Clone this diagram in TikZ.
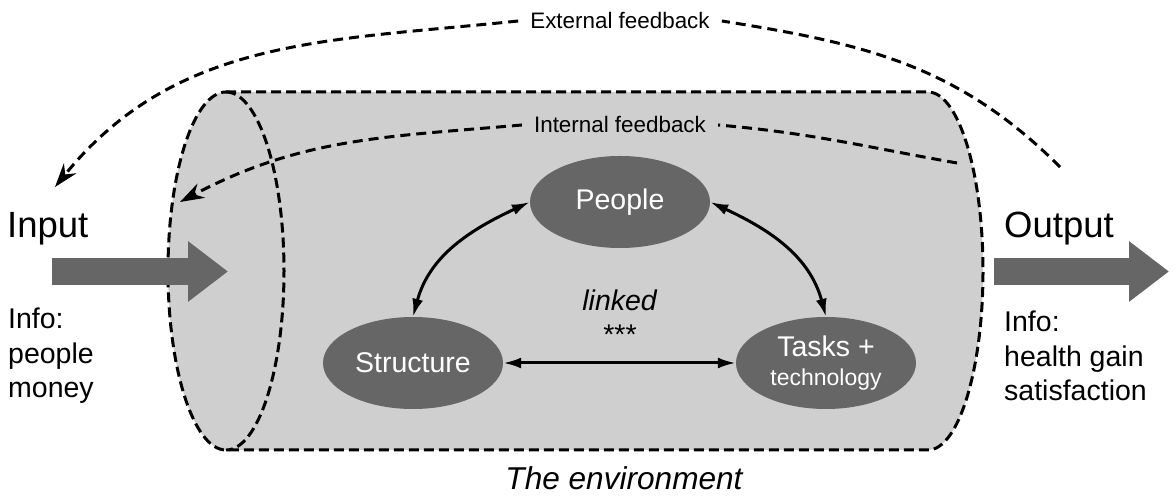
\documentclass[tikz,border=0pt]{standalone}
\usepackage{fontspec}
\setmainfont{Liberation Sans}
\usetikzlibrary{arrows.meta,shapes.geometric}

\definecolor{lightfill}{gray}{0.81}
\definecolor{darkfill}{gray}{0.4}
\newcommand{\fsize}[2]{\fontsize{#1}{#2}\selectfont}

\begin{document}
\begin{tikzpicture}
[
  x=1pt, y=1pt,
  blob/.style={ellipse, fill=darkfill, text=white, inner sep=0pt,
    minimum width=180pt, minimum height=92pt, font=\fsize{28.5}{29}},
  link/.style={line width=3pt,
    {Latex[length=18pt,width=11pt]}-{Latex[length=18pt,width=11pt]}},
  feedback/.style={line width=3pt, dash pattern=on 10pt off 6pt},
  fbtip/.style={-{Stealth[length=24pt,width=16pt]}},
  rim/.style={line width=3pt, dash pattern=on 10pt off 5pt},
  flow/.style={line width=27pt, darkfill, -{Triangle[length=40pt,width=58pt]}},
  fbtext/.style={font=\fsize{22.4}{26}, inner xsep=12pt},
  side/.style={inner sep=0pt, anchor=base west, font=\fsize{36.5}{40}},
  info/.style={inner sep=0pt, anchor=north west, align=left, font=\fsize{28.5}{34.5}}
]
  \useasboundingbox (0,0) rectangle (1175,497);

  % the environment
  \filldraw[rim, fill=lightfill] (226,405) -- (928,405)
    arc[start angle=90, end angle=-90, x radius=55, y radius=179]
    -- (226,47)
    arc[start angle=270, end angle=90, x radius=58, y radius=179] -- cycle;
  \draw[rim] (226,405) arc[start angle=90, end angle=-90, x radius=58, y radius=179];

  \node[blob] (people) at (620,295) {People};
  \node[blob] (structure) at (413,134) {Structure};
  \node[blob, align=center] (tasks) at (826,134) {Tasks +\\{\fsize{23}{26}technology}};
  \node[inner sep=0pt, anchor=north, align=center, font=\fsize{28.5}{34}] (linked) at (620,207) {\textit{linked}\\***};
  \node[inner sep=0pt, anchor=base, font=\fsize{31.6}{36}\itshape] (env) at (624,7) {The environment};

  \draw[link] (people.west) to[out=205, in=75] (structure.north);
  \draw[link] (people.east) to[out=-25, in=105] (tasks.north);
  \draw[link] (structure) -- (tasks);

  % feedback loops
  \node[fbtext] (ext) at (620,476) {External feedback};
  \node[fbtext] (int) at (620,372) {Internal feedback};
  \coordinate (extfrom) at (1060,330);
  \coordinate (extto) at (55,310);
  \coordinate (intfrom) at (957,334);
  \coordinate (intto) at (180,295);
  \draw[feedback] (extfrom) to[out=135, in=-9] (ext.east);
  \draw[feedback, fbtip] (ext.west) to[out=186, in=51] (extto);
  \draw[feedback] (intfrom) to[out=170, in=-5] (int.east);
  \draw[feedback, fbtip] (int.west) to[out=185, in=28] (intto);

  % input and output
  \coordinate (infrom) at (52,225.5);
  \coordinate (into) at (228,225.5);
  \coordinate (outfrom) at (994,225.5);
  \coordinate (outto) at (1169,225.5);
  \draw[flow] (infrom) -- (into);
  \draw[flow] (outfrom) -- (outto);

  \node[side] (input) at (7,259) {Input};
  \node[side] (output) at (1004,259) {Output};
  \node[info] (ininfo) at (8,189) {Info:\\people\\money};
  \node[info] (outinfo) at (1004,186) {Info:\\health gain\\satisfaction};
\end{tikzpicture}
\end{document}
